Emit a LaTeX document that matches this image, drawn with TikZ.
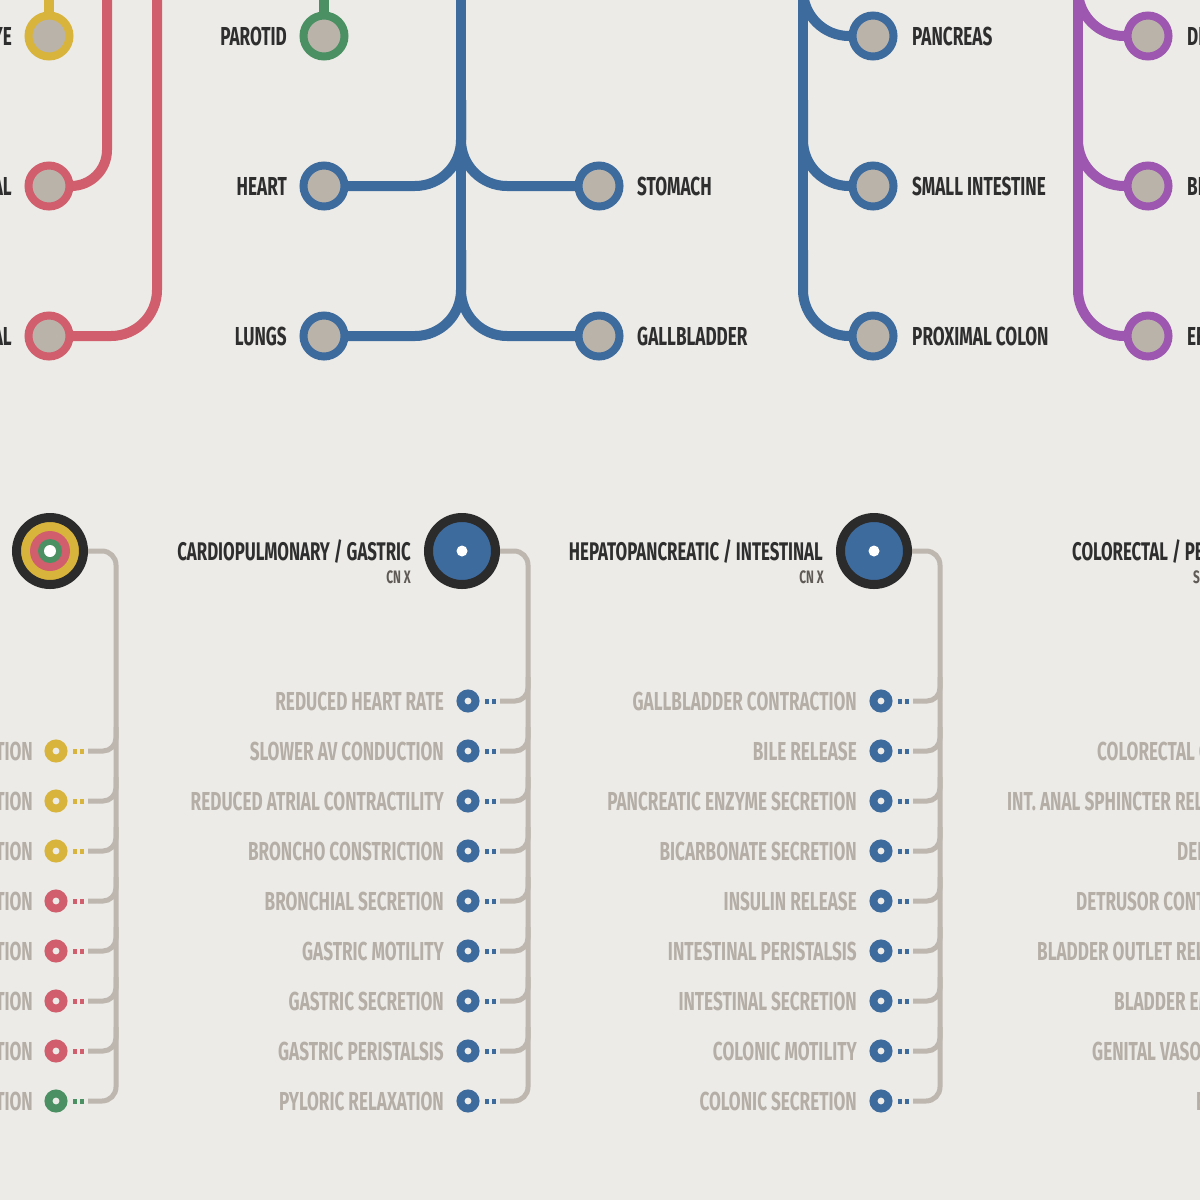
\documentclass[tikz,border=0pt]{standalone}
\usepackage{fontspec}
\setmainfont{Fira Sans}[FakeStretch=0.66]
\usetikzlibrary{calc}
\pgfdeclarelayer{bg}
\pgfsetlayers{bg,main}
\definecolor{bgc}{HTML}{ECEBE7}
\definecolor{stfill}{HTML}{BAB3AA}
\definecolor{cyel}{HTML}{D9B43C}
\definecolor{cred}{HTML}{D15E6D}
\definecolor{cgrn}{HTML}{4B9062}
\definecolor{cblue}{HTML}{3E6B9E}
\definecolor{cpur}{HTML}{9D57B0}
\definecolor{hubk}{HTML}{2B2B2B}
\definecolor{gtext}{HTML}{B5AEA6}
\definecolor{gline}{HTML}{BDB7AF}
\definecolor{dtext}{HTML}{2E2E2E}
\definecolor{stext}{HTML}{5F5A56}
\begin{document}
\begin{tikzpicture}[x=1pt,y=-1pt,
  station/.style={circle, minimum size=41pt, inner sep=0pt, line width=8pt, fill=stfill, draw=#1},
  hub/.style={circle, minimum size=67pt, inner sep=0pt, line width=9pt, draw=hubk, fill=#1},
  effring/.style={circle, minimum size=15pt, inner sep=0pt, line width=8pt, fill=bgc, draw=#1},
  metro/.style={line width=10pt, draw=#1},
  glinestyle/.style={line width=5pt, draw=gline},
  dlab/.style={font=\fontsize{26}{26}\selectfont\bfseries, text=dtext, inner sep=0pt},
  tlab/.style={font=\fontsize{25.5}{26}\selectfont\bfseries, text=dtext, inner sep=0pt},
  glab/.style={font=\fontsize{26}{26}\selectfont\bfseries, text=gtext, inner sep=0pt},
  slab/.style={font=\fontsize{18}{18}\selectfont\bfseries, text=stext, inner sep=0pt}
]
\useasboundingbox (0,0) rectangle (1200,1200);

% ---------- top stations ----------
\node[station=cyel] (eye) at (49,36) {};
\node[station=cred] (lac) at (49,186) {};
\node[station=cred] (subl) at (49,336) {};
\node[station=cgrn] (par) at (324,36) {};
\node[station=cblue] (heart) at (324,186) {};
\node[station=cblue] (lungs) at (324,336) {};
\node[station=cblue] (stom) at (599,186) {};
\node[station=cblue] (gall) at (599,336) {};
\node[station=cblue] (panc) at (873,36) {};
\node[station=cblue] (sint) at (873,186) {};
\node[station=cblue] (pcol) at (873,336) {};
\node[station=cpur] (dcol) at (1148,36) {};
\node[station=cpur] (blad) at (1148,186) {};
\node[station=cpur] (erec) at (1148,336) {};

\node[dlab, anchor=base east] at (12,45) {EYE};
\node[dlab, anchor=base east] at (12,195) {LACRIMAL};
\node[dlab, anchor=base east] at (12,345) {SUBLINGUAL};
\node[dlab, anchor=base east] at (287,45) {PAROTID};
\node[dlab, anchor=base east] at (287,195) {HEART};
\node[dlab, anchor=base east] at (287,345) {LUNGS};
\node[dlab, anchor=base west] at (637,195) {STOMACH};
\node[dlab, anchor=base west] at (637,345) {GALLBLADDER};
\node[dlab, anchor=base west] at (912,45) {PANCREAS};
\node[dlab, anchor=base west] at (912,195) {SMALL INTESTINE};
\node[dlab, anchor=base west] at (912,345) {PROXIMAL COLON};
\node[dlab, anchor=base west] at (1187,45) {DISTAL COLON};
\node[dlab, anchor=base west] at (1187,195) {BLADDER};
\node[dlab, anchor=base west] at (1187,345) {ERECTILE TISSUE};

% ---------- hubs ----------
\node[hub=cyel] (hubA) at (50,551) {};
\fill[cred] (hubA) circle (20);
\fill[cgrn] (hubA) circle (12);
\fill[white] (hubA) circle (6);
\node[hub=cblue] (hubB) at (462,551) {};
\fill[white] (hubB) circle (5.5);
\node[hub=cblue] (hubC) at (874,551) {};
\fill[white] (hubC) circle (5.5);

\node[tlab, anchor=base east] at (411,560) {CARDIOPULMONARY / GASTRIC};
\node[slab, anchor=base east] at (411,583) {CN X};
\node[tlab, anchor=base east] at (823,560) {HEPATOPANCREATIC / INTESTINAL};
\node[slab, anchor=base east] at (824,583) {CN X};
\node[tlab, anchor=base west] at (1072,560) {COLORECTAL / PELVIC};
\node[slab, anchor=base west] at (1193,583) {S2-S4};

% ---------- effects ----------
\foreach \t/\c [count=\i] in {PUPIL CONSTRICTION/cyel, LENS ACCOMMODATION/cyel, CILIARY CONTRACTION/cyel, LACRIMAL SECRETION/cred, NASAL SECRETION/cred, SUBMANDIBULAR SECRETION/cred, SUBLINGUAL SECRETION/cred, PAROTID SECRETION/cgrn}{
  \pgfmathsetmacro\yy{701+50*\i}
  \node[effring=\c] (l\i) at (56,\yy) {};
  \fill[\c] ($(l\i)+(17,-2.5)$) rectangle ++(4,5);
  \fill[\c] ($(l\i)+(24,-2.5)$) rectangle ++(4,5);
  \node[glab, anchor=base east] at ($(l\i)+(-23,9)$) {\t};
  \coordinate (lb\i) at ($(l\i)+(32,0)$);
}
\foreach \t [count=\i] in {REDUCED HEART RATE, SLOWER AV CONDUCTION, REDUCED ATRIAL CONTRACTILITY, BRONCHO CONSTRICTION, BRONCHIAL SECRETION, GASTRIC MOTILITY, GASTRIC SECRETION, GASTRIC PERISTALSIS, PYLORIC RELAXATION}{
  \pgfmathsetmacro\yy{651+50*\i}
  \node[effring=cblue] (m\i) at (468,\yy) {};
  \fill[cblue] ($(m\i)+(17,-2.5)$) rectangle ++(4,5);
  \fill[cblue] ($(m\i)+(24,-2.5)$) rectangle ++(4,5);
  \node[glab, anchor=base east] at ($(m\i)+(-24,9)$) {\t};
  \coordinate (mb\i) at ($(m\i)+(32,0)$);
}
\foreach \t [count=\i] in {GALLBLADDER CONTRACTION, BILE RELEASE, PANCREATIC ENZYME SECRETION, BICARBONATE SECRETION, INSULIN RELEASE, INTESTINAL PERISTALSIS, INTESTINAL SECRETION, COLONIC MOTILITY, COLONIC SECRETION}{
  \pgfmathsetmacro\yy{651+50*\i}
  \node[effring=cblue] (r\i) at (881,\yy) {};
  \fill[cblue] ($(r\i)+(17,-2.5)$) rectangle ++(4,5);
  \fill[cblue] ($(r\i)+(24,-2.5)$) rectangle ++(4,5);
  \node[glab, anchor=base east] at ($(r\i)+(-24,9)$) {\t};
  \coordinate (rb\i) at ($(r\i)+(32,0)$);
}
\node[glab, anchor=base west] at (1097,760) {COLORECTAL CONTRACTION};
\node[glab, anchor=base west] at (1007,810) {INT. ANAL SPHINCTER RELAXATION};
\node[glab, anchor=base west] at (1177,860) {DEFECATION};
\node[glab, anchor=base west] at (1076,910) {DETRUSOR CONTRACTION};
\node[glab, anchor=base west] at (1037,960) {BLADDER OUTLET RELAXATION};
\node[glab, anchor=base west] at (1114,1010) {BLADDER EMPTYING};
\node[glab, anchor=base west] at (1092,1060) {GENITAL VASODILATION};
\node[glab, anchor=base west] at (1196,1110) {ERECTION};

% ---------- connectors (behind) ----------
\begin{pgfonlayer}{bg}
\fill[bgc] (0,0) rectangle (1200,1200);
% top metro lines
\draw[metro=cyel] (eye.center) -- (49,-10);
\draw[metro=cred, rounded corners=36] (107,-10) |- (lac.center);
\draw[metro=cred, rounded corners=46] (157,-10) |- (subl.center);
\draw[metro=cgrn] (par.center) -- (324,-10);
\draw[metro=cblue] (461,-10) -- (461,250);
\draw[metro=cblue, rounded corners=46] (461,100) |- (heart.center);
\draw[metro=cblue, rounded corners=46] (461,100) |- (stom.center);
\draw[metro=cblue, rounded corners=46] (461,250) |- (lungs.center);
\draw[metro=cblue, rounded corners=46] (461,250) |- (gall.center);
\draw[metro=cblue, rounded corners=46] (803,-80) |- (panc.center);
\draw[metro=cblue] (803,-10) -- (803,250);
\draw[metro=cblue, rounded corners=46] (803,100) |- (sint.center);
\draw[metro=cblue, rounded corners=46] (803,250) |- (pcol.center);
\draw[metro=cpur, rounded corners=46] (1078,-80) |- (dcol.center);
\draw[metro=cpur] (1078,-10) -- (1078,250);
\draw[metro=cpur, rounded corners=46] (1078,100) |- (blad.center);
\draw[metro=cpur, rounded corners=46] (1078,250) |- (erec.center);
% effect trees
\draw[glinestyle, rounded corners=14] (hubA.center) -| (116,1101) -- (lb8);
\foreach \i in {1,...,7} \draw[glinestyle, rounded corners=13] (lb\i) -| ($(lb\i)+(28,-24)$);
\draw[glinestyle, rounded corners=14] (hubB.center) -| (528,1101) -- (mb9);
\foreach \i in {1,...,8} \draw[glinestyle, rounded corners=13] (mb\i) -| ($(mb\i)+(28,-24)$);
\draw[glinestyle, rounded corners=14] (hubC.center) -| (940,1101) -- (rb9);
\foreach \i in {1,...,8} \draw[glinestyle, rounded corners=13] (rb\i) -| ($(rb\i)+(27,-24)$);
\end{pgfonlayer}
\end{tikzpicture}
\end{document}
